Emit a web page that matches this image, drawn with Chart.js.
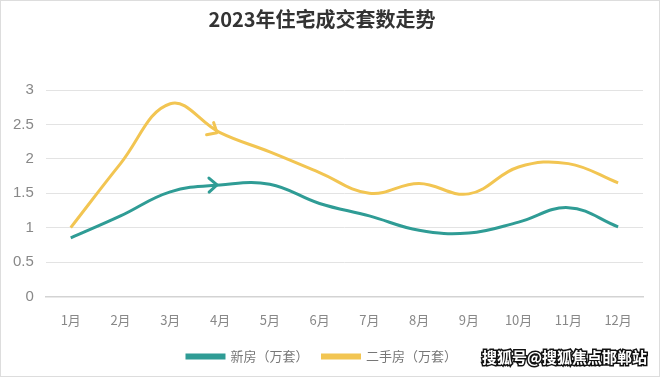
<!DOCTYPE html>
<html>
<head>
<meta charset="utf-8">
<script src="https://cdn.jsdelivr.net/npm/chart.js@4/dist/chart.umd.min.js"></script>
<style>
  html, body { margin: 0; padding: 0; background: #fff; }
  #wrap { width: 658px; height: 375px; border: 1px solid #ddd; }
</style>
</head>
<body>
<div id="wrap"><canvas id="c" width="658" height="375"></canvas></div>
<script>
const months = ['1月','2月','3月','4月','5月','6月','7月','8月','9月','10月','11月','12月'];
const newHomes = [0.85, 1.17, 1.52, 1.62, 1.63, 1.35, 1.17, 0.96, 0.92, 1.08, 1.29, 1.01];
const resale = [1.0, 1.93, 2.8, 2.38, 2.1, 1.8, 1.5, 1.64, 1.49, 1.88, 1.93, 1.65];
const yTicks = [0, 0.5, 1, 1.5, 2, 2.5, 3];

const teal = '#2f9c95';
const yellow = '#f2c552';

// small arrowheads drawn on the curves at April
const arrows = {
  id: 'arrows',
  afterDatasetsDraw(chart) {
    const ctx = chart.ctx;
    const draw = (idx, ds, color, from, to) => {
      const meta = chart.getDatasetMeta(ds);
      const p = meta.data[idx], a = meta.data[from], b = meta.data[to];
      const ang = Math.atan2(b.y - a.y, b.x - a.x);
      ctx.save();
      ctx.translate(p.x - 3, p.y);
      ctx.rotate(ang);
      ctx.strokeStyle = color;
      ctx.lineWidth = 3;
      ctx.lineCap = 'round';
      ctx.lineJoin = 'round';
      ctx.beginPath();
      ctx.moveTo(-8, -7); ctx.lineTo(0, 0); ctx.lineTo(-8, 7);
      ctx.stroke();
      ctx.restore();
    };
    draw(3, 1, yellow, 2, 3);
    draw(3, 0, teal, 3, 4);
  }
};

const stamp = {
  id: 'stamp',
  afterDraw(chart) {
    const ctx = chart.ctx;
    ctx.save();
    ctx.font = 'bold 15px "Noto Sans CJK SC"';
    ctx.textAlign = 'right';
    ctx.textBaseline = 'middle';
    ctx.lineWidth = 3;
    ctx.strokeStyle = '#111';
    ctx.strokeText('搜狐号@搜狐焦点邯郸站', 646, 356);
    ctx.fillStyle = '#fff';
    ctx.fillText('搜狐号@搜狐焦点邯郸站', 646, 356);
    ctx.restore();
  }
};

new Chart(document.getElementById('c'), {
  type: 'line',
  data: {
    labels: months,
    datasets: [
      {
        label: '新房（万套）',
        data: newHomes,
        borderColor: teal,
        backgroundColor: teal,
        borderWidth: 3,
        pointRadius: 0,
        tension: 0.4
      },
      {
        label: '二手房（万套）',
        data: resale,
        borderColor: yellow,
        backgroundColor: yellow,
        borderWidth: 3,
        pointRadius: 0,
        tension: 0.4
      }
    ]
  },
  options: {
    responsive: false,
    animation: false,
    layout: { padding: { left: 0, right: 16, bottom: 3 } },
    plugins: {
      title: {
        display: true,
        text: '2023年住宅成交套数走势',
        color: '#333',
        font: { family: '"Noto Sans CJK SC"', size: 20, weight: 'bold' },
        padding: { top: 6, bottom: 59 }
      },
      legend: {
        position: 'bottom',
        labels: {
          boxWidth: 37,
          boxHeight: 3,
          color: '#777',
          font: { family: '"Noto Sans CJK SC"', size: 13 },
          padding: 14
        }
      },
      tooltip: { enabled: false }
    },
    scales: {
      x: {
        offset: true,
        grid: { display: false },
        border: { color: '#d3d3d3', width: 1.5 },
        ticks: { color: '#888', font: { family: '"Noto Sans CJK SC"', size: 13 }, padding: 8 }
      },
      y: {
        min: 0,
        max: 3,
        afterBuildTicks(axis) { axis.ticks = yTicks.map(v => ({ value: v })); },
        grid: { color: '#e3e3e3', drawTicks: false },
        border: { display: false },
        ticks: {
          color: '#888',
          font: { family: 'Liberation Sans', size: 15 },
          padding: 12,
          callback: v => String(v)
        }
      }
    }
  },
  plugins: [arrows, stamp]
});
</script>
</body>
</html>
